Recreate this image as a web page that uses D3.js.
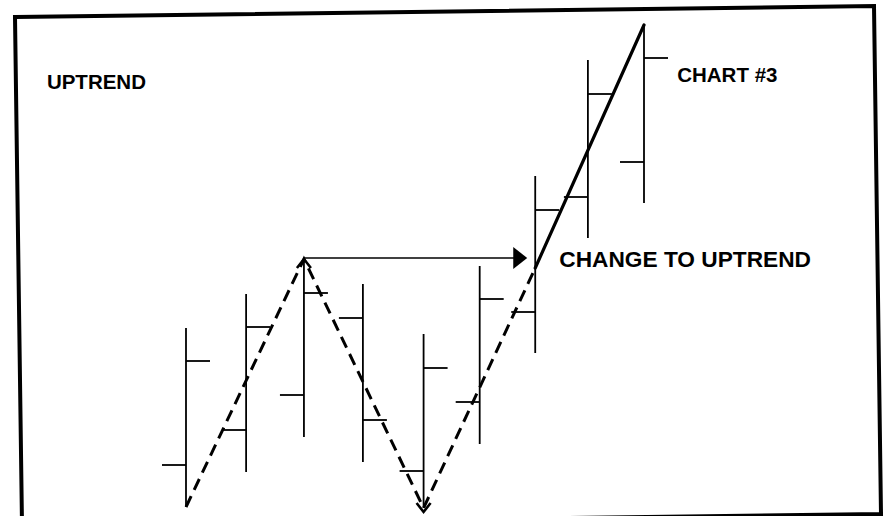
<!DOCTYPE html>
<html>
<head>
<meta charset="utf-8">
<script src="https://cdn.jsdelivr.net/npm/d3@7"></script>
<style>
  html, body { margin: 0; padding: 0; background: #fff; }
  svg { display: block; }
</style>
</head>
<body>
<script>
(function() {

//------------------------------------------------------------------------------
//
// Data
//
//------------------------------------------------------------------------------

// session position of each bar (bars are not evenly spaced)
var days   = [1, 2.05, 3.06, 4.09, 5.15, 6.13, 7.1, 8.02, 9];
var highs  = [36.4, 43.2, 50.2, 45.2, 35.2, 48.8, 66.8, 90.0, 97.0];
var lows   = [0.6, 7.6, 14.6, 9.6, 0.4, 13.2, 31.4, 54.4, 61.4];
var opens  = [9.0, 16.0, 23.0, 38.4, 7.8, 21.6, 39.6, 62.6, 69.6];
var closes = [29.8, 36.6, 43.4, 18.0, 28.4, 42.2, 60.0, 83.2, 90.4];

// swing points: [day, price]
var swingDown = [[1, 0.6], [3.06, 50.2], [5.15, 0.4], [7.1, 48.4]];
var swingUp   = [[7.1, 48.4], [9, 97.0]];
var breakLevel = 50.4;

var labels = [
  {text: "UPTREND", day: -1.43, price: 84.2, size: 20.5},
  {text: "CHART #3", day: 9.58, price: 85.6, size: 20.5},
  {text: "CHANGE TO UPTREND", day: 7.52, price: 48.6, size: 22.7}
];


var chart = {

//------------------------------------------------------------------------------
//
// Properties
//
//------------------------------------------------------------------------------

width: 888,
height: 516,
tick: 24,

//------------------------------------------------------------------------------
//
// Methods
//
//------------------------------------------------------------------------------

initialize : function() {
  this.svg = d3.select("body").append("svg")
    .attr("width", this.width)
    .attr("height", this.height);

  this.x = d3.scaleLinear().domain([1, 9]).range([186, 644]);
  this.y = d3.scaleLinear().domain([0, 100]).range([510, 10]);

  this.drawFrame();
  this.drawBars();
  this.drawSwings();
  this.drawLabels();
},

drawFrame : function() {
  // scanned page is slightly rotated
  this.svg.append("path")
    .attr("d", "M15,17 L874,6 L881,514 L22,525 Z")
    .attr("fill", "none")
    .attr("stroke", "#000")
    .attr("stroke-width", 4);
},

drawBars : function() {
  var $this = this;
  var bars = days.map(function(d, i) {
    return {day: d, high: highs[i], low: lows[i], open: opens[i], close: closes[i]};
  });

  var g = this.svg.append("g")
    .attr("stroke", "#000")
    .attr("stroke-width", 1.8);

  var bar = g.selectAll(".bar")
    .data(bars)
    .enter().append("g")
      .attr("class", "bar");

  bar.append("line")
    .attr("x1", function(d) { return $this.x(d.day); })
    .attr("x2", function(d) { return $this.x(d.day); })
    .attr("y1", function(d) { return $this.y(d.high); })
    .attr("y2", function(d) { return $this.y(d.low); });

  bar.append("line")
    .attr("x1", function(d) { return $this.x(d.day) - $this.tick; })
    .attr("x2", function(d) { return $this.x(d.day); })
    .attr("y1", function(d) { return $this.y(d.open); })
    .attr("y2", function(d) { return $this.y(d.open); });

  bar.append("line")
    .attr("x1", function(d) { return $this.x(d.day); })
    .attr("x2", function(d) { return $this.x(d.day) + $this.tick; })
    .attr("y1", function(d) { return $this.y(d.close); })
    .attr("y2", function(d) { return $this.y(d.close); });
},

drawSwings : function() {
  var $this = this;
  var line = d3.line()
    .x(function(d) { return $this.x(d[0]); })
    .y(function(d) { return $this.y(d[1]); });

  // horizontal break line from the swing high
  var hx1 = this.x(swingDown[1][0]), hy = this.y(breakLevel);
  var hx2 = this.x(swingDown[3][0]) - 8;
  this.svg.append("line")
    .attr("x1", hx1).attr("x2", hx2 - 12)
    .attr("y1", hy).attr("y2", hy)
    .attr("stroke", "#000")
    .attr("stroke-width", 1.6);
  this.svg.append("path")
    .attr("d", "M" + (hx2 - 14) + "," + (hy - 11) + " L" + hx2 + "," + hy + " L" + (hx2 - 14) + "," + (hy + 11) + " Z")
    .attr("fill", "#000");

  this.svg.append("path")
    .datum(swingDown)
    .attr("d", line)
    .attr("fill", "none")
    .attr("stroke", "#000")
    .attr("stroke-width", 3)
    .attr("stroke-dasharray", "12,7");

  this.svg.append("path")
    .datum(swingUp)
    .attr("d", line)
    .attr("fill", "none")
    .attr("stroke", "#000")
    .attr("stroke-width", 3.2)
    .attr("stroke-linecap", "round");

  // open arrowheads on the swing high and swing low
  var heads = [
    {p: swingDown[1], dir: -1},
    {p: swingDown[2], dir: 1}
  ];
  this.svg.selectAll(".head")
    .data(heads)
    .enter().append("path")
      .attr("class", "head")
      .attr("d", function(d) {
        var cx = $this.x(d.p[0]), cy = $this.y(d.p[1]) + (d.dir > 0 ? 4 : 0);
        return "M" + (cx - 7) + "," + (cy - d.dir * 9) + " L" + cx + "," + cy + " L" + (cx + 7) + "," + (cy - d.dir * 9);
      })
      .attr("fill", "none")
      .attr("stroke", "#000")
      .attr("stroke-width", 2.6);
},

drawLabels : function() {
  var $this = this;
  this.svg.selectAll(".label")
    .data(labels)
    .enter().append("text")
      .attr("class", "label")
      .attr("x", function(d) { return $this.x(d.day); })
      .attr("y", function(d) { return $this.y(d.price); })
      .attr("font-family", "'Liberation Sans', Arial, Helvetica, sans-serif")
      .attr("font-weight", "bold")
      .attr("font-size", function(d) { return d.size + "px"; })
      .attr("fill", "#000")
      .text(function(d) { return d.text; });
}

};

chart.initialize();

})();
</script>
</body>
</html>
